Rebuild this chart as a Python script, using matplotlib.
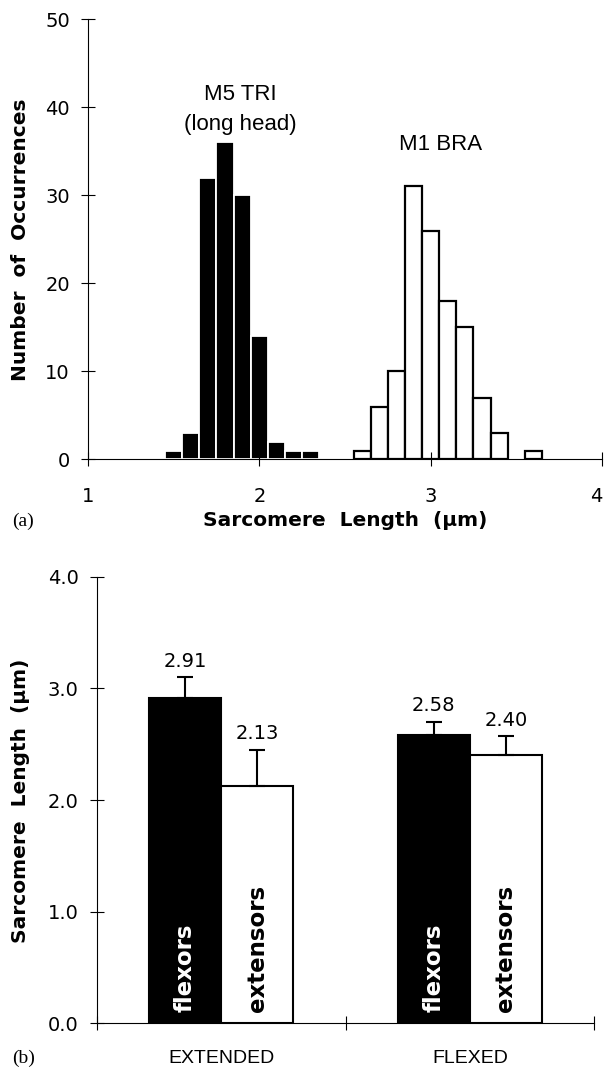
import numpy as np
import matplotlib
matplotlib.use("Agg")
import matplotlib.pyplot as plt

# (a) sarcomere length histograms
tri_bins = [1.5, 1.6, 1.7, 1.8, 1.9, 2.0, 2.1, 2.2, 2.3]
tri_counts = [1, 3, 32, 36, 30, 14, 2, 1, 1]
bra_bins = [2.6, 2.7, 2.8, 2.9, 3.0, 3.1, 3.2, 3.3, 3.4, 3.6]
bra_counts = [1, 6, 10, 31, 26, 18, 15, 7, 3, 1]

# (b) mean sarcomere length by joint position
positions = ["EXTENDED", "FLEXED"]
flexors = [2.91, 2.58]
flexors_err = [0.19, 0.12]
extensors = [2.13, 2.40]
extensors_err = [0.32, 0.17]

num_font = "DejaVu Sans"
txt_font = "Liberation Sans"

fig = plt.figure(figsize=(6.06, 10.7), dpi=100)

# ---------- top panel ----------
ax1 = fig.add_axes([0.1452, 0.5707, 0.8482, 0.4113])
ax1.bar(tri_bins, tri_counts, width=0.1, color="black", edgecolor="white", linewidth=1.3)
ax1.bar(bra_bins, bra_counts, width=0.1, color="white", edgecolor="black", linewidth=1.6)
ax1.set_xlim(1, 4)
ax1.set_ylim(0, 50)
ax1.set_xticks([1, 2, 3, 4])
ax1.set_yticks([0, 10, 20, 30, 40, 50])
for s in ["top", "right"]:
    ax1.spines[s].set_visible(False)
for s in ["left", "bottom"]:
    ax1.spines[s].set_linewidth(0.8)
ax1.tick_params(axis="both", direction="inout", length=10, width=0.8)
ax1.tick_params(axis="y", pad=8)
ax1.tick_params(axis="x", pad=15)
for lab in ax1.get_xticklabels() + ax1.get_yticklabels():
    lab.set_fontfamily(num_font)
    lab.set_fontsize(14)
# keep the last tick label inside the figure
ax1.get_xticklabels()[-1].set_horizontalalignment("right")

ax1.set_ylabel("Number  of  Occurrences", fontfamily=num_font, fontweight="bold",
               fontsize=14.5, va="center")
ax1.yaxis.set_label_coords(-0.132, 0.5)
ax1.set_xlabel("Sarcomere  Length  (\u03bcm)", fontfamily=num_font, fontweight="bold",
               fontsize=14.5, va="center")
ax1.xaxis.set_label_coords(0.5, -0.14)

ax1.text(1.89, 41.5, "M5 TRI", fontfamily=txt_font, fontsize=16, ha="center", va="center")
ax1.text(1.89, 38.1, "(long head)", fontfamily=txt_font, fontsize=16, ha="center", va="center")
ax1.text(3.06, 35.8, "M1 BRA", fontfamily=txt_font, fontsize=16, ha="center", va="center")

fig.text(12 / 606, 1 - 521 / 1070, "(a)", fontfamily="Liberation Serif", fontsize=14,
         ha="left", va="center")

# ---------- bottom panel ----------
ax2 = fig.add_axes([0.1596, 0.0436, 0.8211, 0.4174])
x = np.arange(len(positions))
w = 0.29
ax2.bar(x - w / 2, flexors, width=w, color="black", edgecolor="black", linewidth=1.5)
ax2.bar(x + w / 2, extensors, width=w, color="white", edgecolor="black", linewidth=1.5)
ax2.errorbar(x - w / 2, flexors, yerr=[np.zeros(2), flexors_err], fmt="none",
             ecolor="black", elinewidth=1.5, capsize=6, capthick=1.5)
ax2.errorbar(x + w / 2, extensors, yerr=[np.zeros(2), extensors_err], fmt="none",
             ecolor="black", elinewidth=1.5, capsize=6, capthick=1.5)

for i in range(len(positions)):
    ax2.text(x[i] - w / 2, flexors[i] + flexors_err[i] + 0.06, f"{flexors[i]:.2f}",
             fontfamily=num_font, fontsize=14, ha="center", va="bottom")
    ax2.text(x[i] + w / 2, extensors[i] + extensors_err[i] + 0.06, f"{extensors[i]:.2f}",
             fontfamily=num_font, fontsize=14, ha="center", va="bottom")
    ax2.text(x[i] - w / 2, 0.1, "flexors", color="white", rotation=90, fontfamily=num_font,
             fontweight="bold", fontsize=16.5, ha="center", va="bottom")
    ax2.text(x[i] + w / 2, 0.1, "extensors", color="black", rotation=90, fontfamily=num_font,
             fontweight="bold", fontsize=16.5, ha="center", va="bottom")

ax2.set_xlim(-0.5, 1.5)
ax2.set_ylim(0, 4)
ax2.set_yticks([0, 1, 2, 3, 4])
ax2.set_yticklabels([f"{v:.1f}" for v in [0, 1, 2, 3, 4]])
ax2.set_xticks([-0.5, 0.5, 1.5])
ax2.set_xticklabels([])
ax2.set_xticks(x, minor=True)
ax2.set_xticklabels(positions, minor=True, fontfamily=txt_font, fontsize=14)
for s in ["top", "right"]:
    ax2.spines[s].set_visible(False)
for s in ["left", "bottom"]:
    ax2.spines[s].set_linewidth(0.8)
ax2.tick_params(axis="both", which="major", direction="inout", length=10, width=0.8)
ax2.tick_params(axis="y", pad=8)
ax2.tick_params(axis="x", which="minor", length=0, pad=19)
for lab in ax2.get_yticklabels():
    lab.set_fontfamily(num_font)
    lab.set_fontsize(14)

ax2.set_ylabel("Sarcomere  Length  (\u03bcm)", fontfamily=num_font, fontweight="bold",
               fontsize=14.5, va="center")
ax2.yaxis.set_label_coords(-0.154, 0.498)

fig.text(12 / 606, 1 - 1058 / 1070, "(b)", fontfamily="Liberation Serif", fontsize=14,
         ha="left", va="center")

fig.savefig("out.png", dpi=100)
